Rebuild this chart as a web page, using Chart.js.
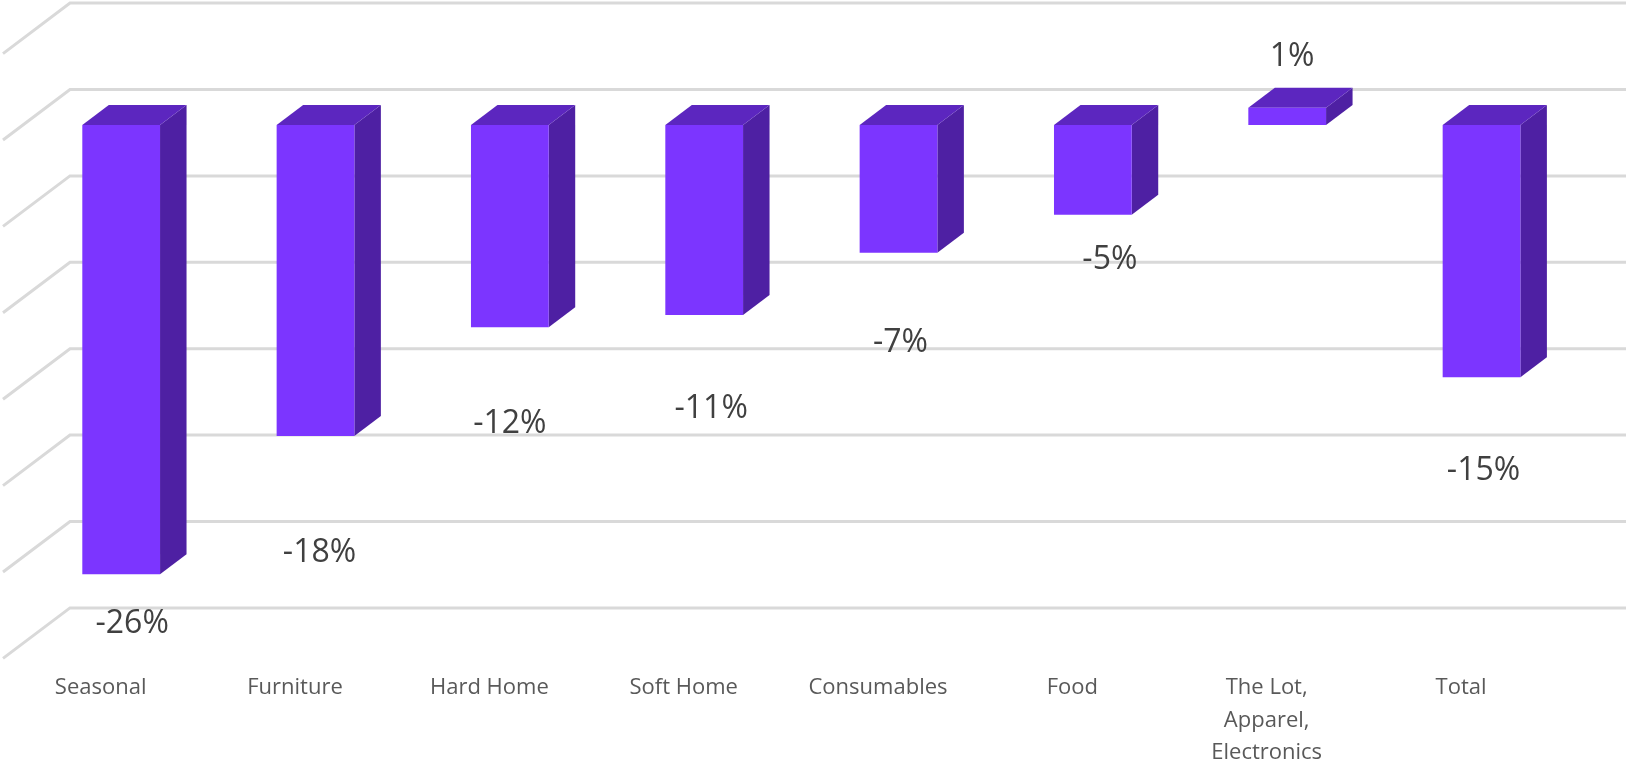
<!DOCTYPE html>
<html>
<head>
<meta charset="utf-8">
<style>
  body { margin: 0; background: #fff; }
</style>
<script src="https://cdn.jsdelivr.net/npm/chart.js@4"></script>
</head>
<body>
<canvas id="bars3d" width="1626" height="764"></canvas>
<script>
// Chart data
const categories = [
  'Seasonal',
  'Furniture',
  'Hard Home',
  'Soft Home',
  'Consumables',
  'Food',
  ['The Lot,', 'Apparel,', 'Electronics'],
  'Total'
];
const changePct = [-26, -18, -11.7, -11, -7.4, -5.2, 1, -14.6];
const axisMin = -30;
const axisMax = 5;
const axisStep = 5;

// Where each value label sits relative to the end of its bar
const labelNudgeX = [11, 4, 0, 7, 2, 17, 5, 2];
const labelNudgeY = [50, 117, 97, 94, 90, 45, -51, 94];

const fontName = '"Open Sans", "Noto Sans", sans-serif';

// Fake 3D box depth, the chart itself is a plain bar chart
const barDepthX = 26.5;
const barDepthY = 20;

const wallAndBoxes = {
  id: 'wallAndBoxes',
  beforeDatasetsDraw(chart) {
    const ctx = chart.ctx;
    const area = chart.chartArea;
    const yScale = chart.scales.y;

    // back wall lines and the floor diagonals
    ctx.save();
    ctx.strokeStyle = '#d9d9d9';
    ctx.lineWidth = 3;
    yScale.ticks.forEach(tick => {
      const py = yScale.getPixelForValue(tick.value);
      ctx.beginPath();
      ctx.moveTo(area.left - 21, py + 15);
      ctx.lineTo(area.left + 46, py - 35.5);
      ctx.lineTo(area.right + 49, py - 35.5);
      ctx.stroke();
    });

    // side and top faces of each bar
    chart.getDatasetMeta(0).data.forEach(bar => {
      const left = bar.x - bar.width / 2;
      const right = bar.x + bar.width / 2;
      const top = Math.min(bar.y, bar.base);
      const bottom = Math.max(bar.y, bar.base);

      ctx.fillStyle = '#4e20a3';
      ctx.beginPath();
      ctx.moveTo(right, top);
      ctx.lineTo(right + barDepthX, top - barDepthY);
      ctx.lineTo(right + barDepthX, bottom - barDepthY);
      ctx.lineTo(right, bottom);
      ctx.closePath();
      ctx.fill();

      ctx.fillStyle = '#5c26bf';
      ctx.beginPath();
      ctx.moveTo(left, top);
      ctx.lineTo(left + barDepthX, top - barDepthY);
      ctx.lineTo(right + barDepthX, top - barDepthY);
      ctx.lineTo(right, top);
      ctx.closePath();
      ctx.fill();
    });
    ctx.restore();
  },
  afterDatasetsDraw(chart) {
    const ctx = chart.ctx;
    ctx.save();
    ctx.font = '32px ' + fontName;
    ctx.fillStyle = '#404040';
    ctx.textAlign = 'center';
    ctx.textBaseline = 'middle';
    chart.getDatasetMeta(0).data.forEach((bar, i) => {
      const text = Math.round(changePct[i]) + '%';
      ctx.fillText(text, bar.x + labelNudgeX[i], bar.y + labelNudgeY[i]);
    });
    ctx.restore();
  }
};

const salesChart = new Chart(document.getElementById('bars3d'), {
  type: 'bar',
  data: {
    labels: categories,
    datasets: [{
      data: changePct,
      backgroundColor: '#7c35ff',
      barPercentage: 0.4,
      categoryPercentage: 1
    }]
  },
  options: {
    responsive: false,
    animation: false,
    layout: {
      padding: { left: 24, right: 47.3, top: 38.6, bottom: 0 }
    },
    plugins: {
      legend: { display: false },
      tooltip: { enabled: false }
    },
    scales: {
      x: {
        grid: { display: false },
        border: { display: false },
        afterFit(scale) { scale.height = 120.6; },
        ticks: {
          autoSkip: false,
          maxRotation: 0,
          labelOffset: -20.5,
          padding: 20,
          color: '#595959',
          font: { family: fontName, size: 22, lineHeight: 1.48 }
        }
      },
      y: {
        display: false,
        min: axisMin,
        max: axisMax,
        ticks: { stepSize: axisStep }
      }
    }
  },
  plugins: [wallAndBoxes]
});
</script>
</body>
</html>
